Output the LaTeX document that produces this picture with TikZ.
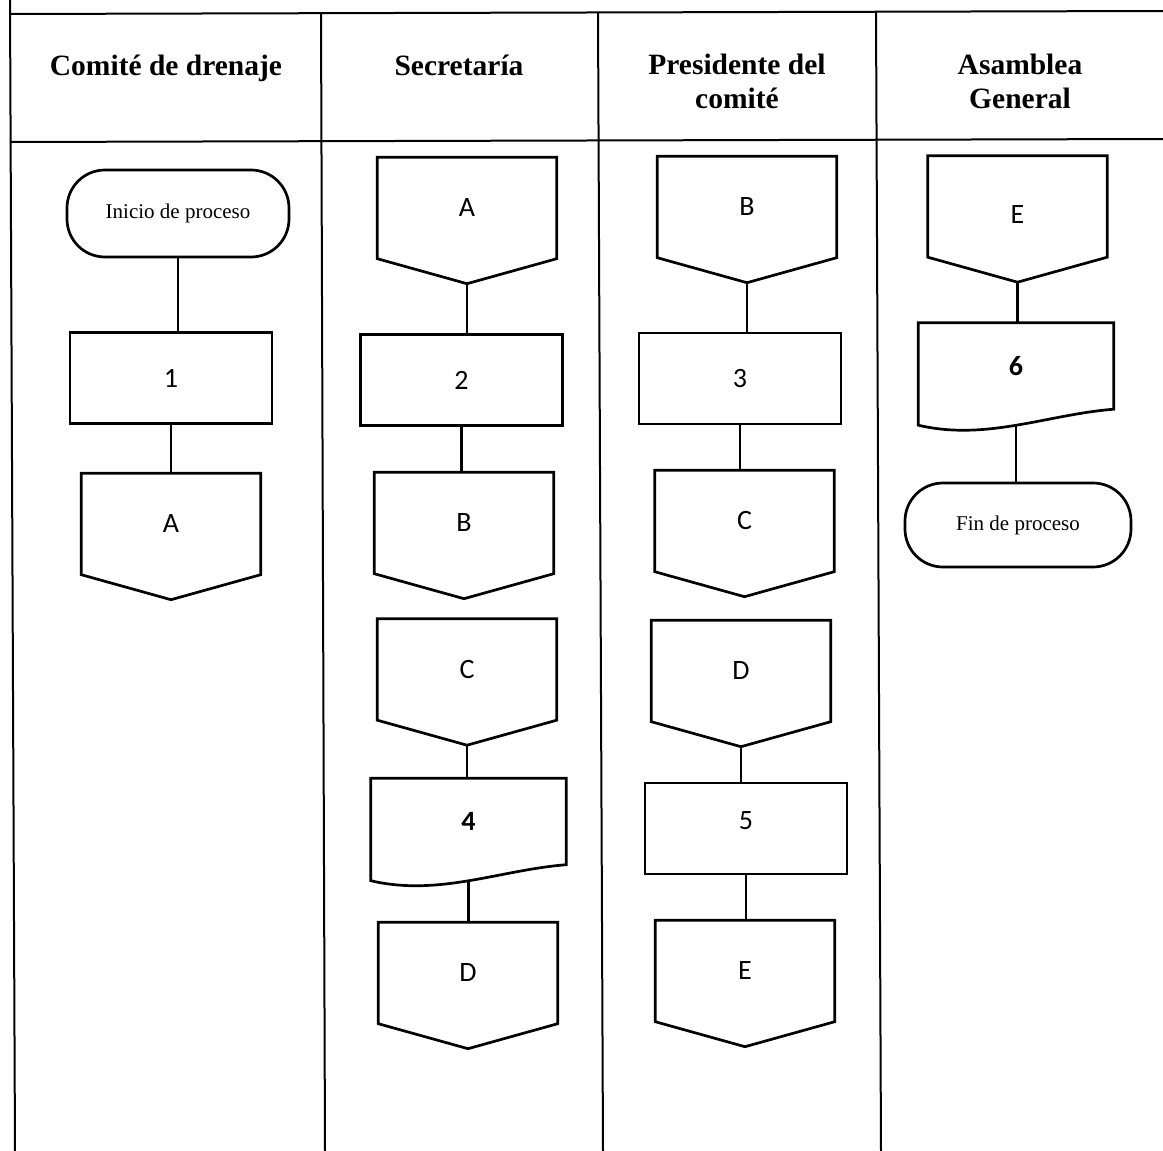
\documentclass[tikz,border=0pt]{standalone}
\usepackage{fontspec}
\setmainfont{Liberation Serif}
\newfontfamily\calib{Carlito}
\usetikzlibrary{calc}
\newcommand\offpgdraw[1]{\draw[outl] (#1.north west) -- (#1.north east) -- (#1.south east) -- ([yshift=-25pt]#1.south) -- (#1.south west) -- cycle;}
\newcommand\docdraw[1]{\draw[outl] (#1.north west) -- (#1.north east) -- (#1.south east) .. controls ([xshift=-66.5pt,yshift=-5.3pt]#1.south east) and ([xshift=-127.5pt,yshift=-32pt]#1.south east) .. ([yshift=-16pt]#1.south west) -- cycle;}
\begin{document}
\begin{tikzpicture}[x=1pt,y=-1pt,
  tline/.style={line width=2pt},
  outl/.style={line width=2.7pt, line join=miter},
  conn/.style={line width=2.6pt},
  hdr/.style={font=\fontsize{29.5}{34}\selectfont\bfseries, align=center, inner sep=0pt},
  term/.style={draw, outl, rounded corners=38pt, inner sep=0pt, font=\fontsize{21}{25}\selectfont},
  proc/.style={draw, outl, minimum width=202pt, minimum height=91pt, inner sep=0pt, font=\calib\fontsize{28}{32}\selectfont},
  offpg/.style={minimum width=179pt, minimum height=101pt, inner sep=0pt, font=\calib\fontsize{28}{32}\selectfont},
  docu/.style={minimum width=195pt, minimum height=86pt, inner sep=0pt, font=\calib\bfseries\fontsize{28}{32}\selectfont},
]
\fill[white] (0,0) rectangle (1163,1151);
\useasboundingbox (0,0) rectangle (1163,1151);

% table
\draw[tline] (10,0) -- (15,1151);
\draw[tline] (10,14) -- (1163,11);
\draw[tline] (10,142) -- (1163,139);
\draw[tline] (321,13) -- (325,1151);
\draw[tline] (598,12) -- (603,1151);
\draw[tline] (876,11) -- (881,1151);

% headers
\node[hdr, anchor=base] (h1) at (166,75) {Comité de drenaje};
\node[hdr, anchor=base] (h2) at (459,75) {Secretaría};
\node[hdr, anchor=north] (h3) at (737,54) {Presidente del\\comité};
\node[hdr, anchor=north] (h4) at (1020,54) {Asamblea\\General};

% column 1
\node[term, minimum width=222pt, minimum height=87pt] (ini) at (178,213.5) {Inicio de proceso};
\node[proc] (p1) at (171,378) {1};
\node[offpg] (c1a) at (171,524) {A};

% column 2
\node[offpg] (c2a) at (467,208) {A};
\node[proc] (p2) at (461.5,380) {2};
\node[offpg] (c2b) at (464,523) {B};
\node[offpg] (c2c) at (467,669.5) {C};
\node[docu] (d4) at (468.5,821.5) {4};
\node[offpg] (c2d) at (468,973) {D};

% column 3
\node[offpg] (c3b) at (747,207) {B};
\node[proc] (p3) at (740,378.5) {3};
\node[offpg] (c3c) at (744.5,521) {C};
\node[offpg] (c3d) at (741,671) {D};
\node[proc, text depth=16pt] (p5) at (746,828.5) {5};
\node[offpg] (c3e) at (745,971) {E};

% column 4
\node[offpg, text height=34pt] (c4e) at (1017.5,206.5) {E};
\node[docu] (d6) at (1016,366) {6};
\node[term, minimum width=226pt, minimum height=84pt] (fin) at (1018,525) {Fin de proceso};

% outlines
\offpgdraw{c1a}
\offpgdraw{c2a}
\offpgdraw{c2b}
\offpgdraw{c2c}
\offpgdraw{c2d}
\offpgdraw{c3b}
\offpgdraw{c3c}
\offpgdraw{c3d}
\offpgdraw{c3e}
\offpgdraw{c4e}
\docdraw{d4}
\docdraw{d6}

% connectors
\draw[conn] (ini.south) -- (ini.south |- p1.north);
\draw[conn] (p1.south) -- (p1.south |- c1a.north);
\draw[conn] ([yshift=-25pt]c2a.south) -- (c2a.south |- p2.north);
\draw[conn] (p2.south) -- (p2.south |- c2b.north);
\draw[conn] ([yshift=-25pt]c2c.south) -- (c2c.south |- d4.north);
\draw[conn] ([yshift=-16pt]d4.south) -- (d4.south |- c2d.north);
\draw[conn] ([yshift=-25pt]c3b.south) -- (c3b.south |- p3.north);
\draw[conn] (p3.south) -- (p3.south |- c3c.north);
\draw[conn] ([yshift=-25pt]c3d.south) -- (c3d.south |- p5.north);
\draw[conn] (p5.south) -- (p5.south |- c3e.north);
\draw[conn] ([yshift=-25pt]c4e.south) -- (c4e.south |- d6.north);
\draw[conn] ([yshift=-16pt]d6.south) -- (d6.south |- fin.north);
\end{tikzpicture}
\end{document}
